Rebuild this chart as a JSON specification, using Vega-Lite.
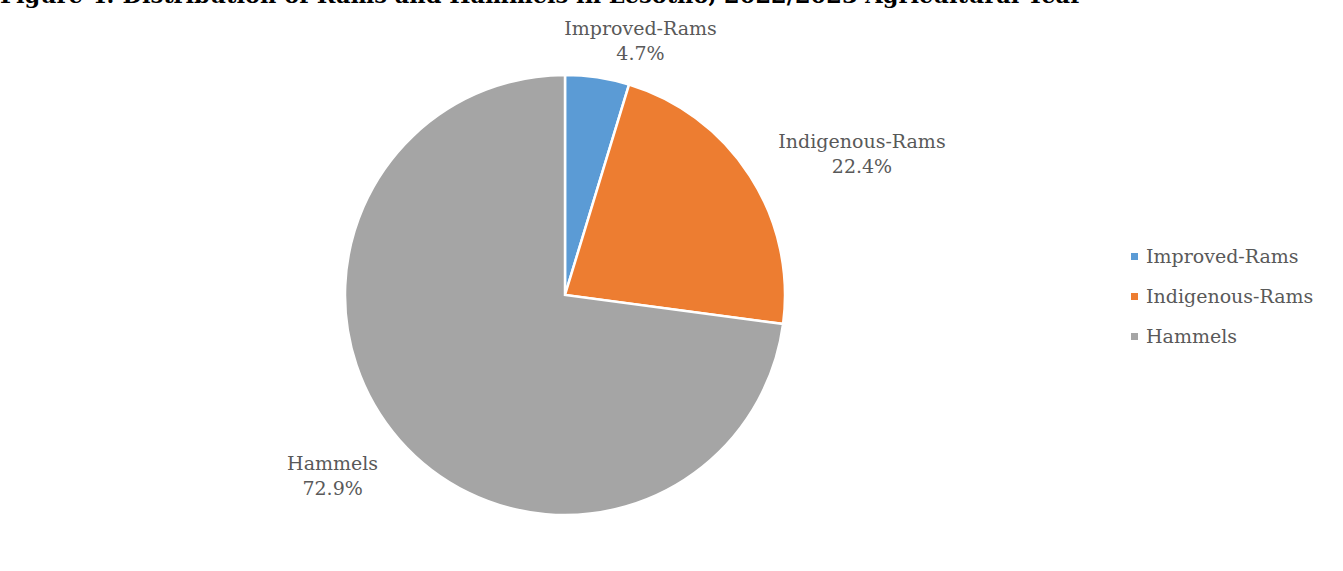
{
  "$schema": "https://vega.github.io/schema/vega-lite/v6.json",
  "autosize": {"type": "none"},
  "width": 1108,
  "height": 570,
  "padding": {"left": 11, "top": 10, "right": 224, "bottom": 0},
  "background": "white",
  "title": {
    "text": "Figure 4: Distribution of Rams and Hammels in Lesotho, 2022/2023 Agricultural Year",
    "anchor": "start",
    "font": "DejaVu Serif",
    "fontSize": 22.5,
    "fontWeight": "bold",
    "color": "black",
    "baseline": "alphabetic",
    "offset": 9,
    "dx": -11,
    "dy": 24
  },
  "config": {"view": {"stroke": null}},
  "data": {
    "values": [
      {"category": "Improved-Rams", "share": 4.7, "order": 1},
      {"category": "Indigenous-Rams", "share": 22.4, "order": 2},
      {"category": "Hammels", "share": 72.9, "order": 3}
    ]
  },
  "transform": [
    {"stack": "share", "groupby": [], "sort": [{"field": "order", "order": "ascending"}], "as": ["s0", "s1"]},
    {"calculate": "(datum.s0 + datum.s1) / 2", "as": "mid"},
    {"calculate": "[datum.category, format(datum.share, '.1f') + '%']", "as": "label"}
  ],
  "layer": [
    {
      "mark": {"type": "arc", "outerRadius": 220, "stroke": "white", "strokeWidth": 2.5},
      "encoding": {
        "theta": {"field": "s0", "type": "quantitative", "scale": {"domain": [0, 100]}},
        "theta2": {"field": "s1"},
        "color": {
          "field": "category",
          "type": "nominal",
          "scale": {
            "domain": ["Improved-Rams", "Indigenous-Rams", "Hammels"],
            "range": ["#5B9BD5", "#ED7D31", "#A5A5A5"]
          },
          "legend": {
            "title": null,
            "orient": "none",
            "legendX": 1114,
            "legendY": 237,
            "symbolType": "square",
            "symbolSize": 49,
            "symbolStrokeWidth": 0,
            "labelFont": "DejaVu Serif",
            "labelFontSize": 19,
            "labelColor": "#595959",
            "labelLimit": 400,
            "rowPadding": 20,
            "labelOffset": 2
          }
        }
      }
    },
    {
      "transform": [{"filter": "datum.category === 'Improved-Rams'"}],
      "mark": {"type": "text", "radius": 255, "dx": 38, "dy": -14, "font": "DejaVu Serif", "fontSize": 19, "lineHeight": 25, "color": "#595959"},
      "encoding": {
        "theta": {"field": "mid", "type": "quantitative"},
        "text": {"field": "label"}
      }
    },
    {
      "transform": [{"filter": "datum.category === 'Indigenous-Rams'"}],
      "mark": {"type": "text", "radius": 327, "dx": 22, "dy": 24, "font": "DejaVu Serif", "fontSize": 19, "lineHeight": 25, "color": "#595959"},
      "encoding": {
        "theta": {"field": "mid", "type": "quantitative"},
        "text": {"field": "label"}
      }
    },
    {
      "transform": [{"filter": "datum.category === 'Hammels'"}],
      "mark": {"type": "text", "radius": 293, "dx": -12, "dy": -24, "font": "DejaVu Serif", "fontSize": 19, "lineHeight": 25, "color": "#595959"},
      "encoding": {
        "theta": {"field": "mid", "type": "quantitative"},
        "text": {"field": "label"}
      }
    }
  ]
}
